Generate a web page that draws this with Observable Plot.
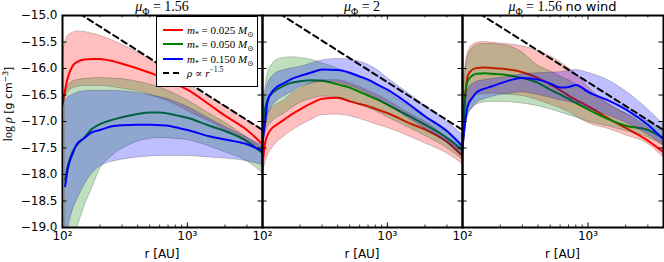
<!DOCTYPE html>
<html><head><meta charset="utf-8">
<script src="https://cdn.jsdelivr.net/npm/d3@7"></script>
<script src="https://cdn.jsdelivr.net/npm/@observablehq/plot@0.6"></script>
<style>
body{margin:0;background:#fff;}
#wrap{position:relative;width:664px;height:262px;overflow:hidden;background:#fff;font-family:"DejaVu Sans",sans-serif;}
#wrap svg{position:absolute;left:0;top:0;}
.t{position:absolute;white-space:nowrap;line-height:1;}
.m{font-family:"Liberation Serif","DejaVu Serif",serif;}
.m sub,.m sup{font-size:70%;line-height:0;}
#legend{position:absolute;left:156px;top:16px;width:100px;height:69px;border:1px solid #000;background:#fff;}
#legend .row{position:absolute;left:0;width:100px;height:12px;}
#legend svg{position:absolute;left:5px;top:0;}
#legend .lab{position:absolute;left:30px;top:0px;font-size:11px;line-height:12px;height:12px;white-space:nowrap;}
</style></head><body><div id="wrap"></div>
<script>
// ---- data ----
const radii = [100,105,110,120,130,150,170,200,250,300,400,500,600,700,800,1000,1500,2000,3000,4000];

const p1RedMid   = [-16.68,-16.40,-16.18,-15.96,-15.88,-15.83,-15.82,-15.82,-15.86,-15.91,-16.00,-16.08,-16.15,-16.22,-16.29,-16.40,-16.68,-16.89,-17.16,-17.43];
const p1RedHi    = [-15.74,-15.52,-15.39,-15.33,-15.30,-15.31,-15.34,-15.38,-15.47,-15.55,-15.70,-15.83,-15.95,-16.05,-16.13,-16.30,-16.55,-16.71,-16.98,-17.15];
const p1RedLo    = [-16.75,-16.55,-16.45,-16.38,-16.35,-16.33,-16.33,-16.33,-16.35,-16.38,-16.43,-16.50,-16.56,-16.62,-16.68,-16.80,-17.00,-17.15,-17.40,-17.60];
const p1GreenMid = [null,-18.10,-17.85,-17.58,-17.45,-17.30,-17.15,-17.05,-16.97,-16.92,-16.86,-16.83,-16.83,-16.85,-16.88,-16.93,-17.08,-17.18,-17.37,-17.60];
const p1GreenHi  = [null,-16.50,-16.35,-16.25,-16.22,-16.20,-16.19,-16.18,-16.19,-16.20,-16.25,-16.30,-16.36,-16.42,-16.48,-16.60,-16.85,-17.02,-17.30,-17.50];
const p1GreenLo  = [null,-19.80,-19.60,-19.30,-19.05,-18.60,-18.30,-17.90,-17.65,-17.52,-17.38,-17.33,-17.31,-17.32,-17.33,-17.35,-17.47,-17.58,-17.75,-17.97];
const p1BlueMid  = [null,-18.22,-17.90,-17.62,-17.43,-17.31,-17.21,-17.16,-17.09,-17.07,-17.06,-17.06,-17.07,-17.08,-17.11,-17.16,-17.28,-17.34,-17.43,-17.56];
const p1BlueHi   = [null,-16.60,-16.55,-16.50,-16.46,-16.43,-16.42,-16.42,-16.42,-16.43,-16.46,-16.50,-16.54,-16.58,-16.63,-16.72,-16.95,-17.10,-17.30,-17.45];
const p1BlueLo   = [null,-19.50,-19.10,-18.70,-18.50,-18.20,-18.00,-17.85,-17.76,-17.72,-17.68,-17.66,-17.65,-17.65,-17.65,-17.65,-17.68,-17.70,-17.75,-17.82];

const p2RedMid   = [-17.84,-17.40,-17.25,-17.12,-17.06,-16.96,-16.87,-16.77,-16.65,-16.57,-16.55,-16.62,-16.67,-16.71,-16.76,-16.84,-17.03,-17.15,-17.38,-17.65];
const p2RedHi    = [-17.30,-17.00,-16.85,-16.75,-16.68,-16.60,-16.48,-16.38,-16.27,-16.22,-16.22,-16.28,-16.35,-16.42,-16.48,-16.60,-16.85,-17.00,-17.30,-17.50];
const p2RedLo    = [-18.05,-17.80,-17.65,-17.50,-17.40,-17.28,-17.18,-17.08,-16.96,-16.88,-16.87,-16.90,-16.95,-17.00,-17.05,-17.12,-17.28,-17.41,-17.60,-17.80];
const p2GreenMid = [-17.10,-16.75,-16.58,-16.46,-16.40,-16.32,-16.27,-16.24,-16.22,-16.23,-16.30,-16.36,-16.44,-16.51,-16.57,-16.68,-16.90,-17.06,-17.31,-17.55];
const p2GreenHi  = [-17.00,-16.40,-16.10,-15.92,-15.84,-15.80,-15.79,-15.80,-15.84,-15.90,-16.00,-16.10,-16.17,-16.24,-16.30,-16.45,-16.72,-16.92,-17.20,-17.42];
const p2GreenLo  = [-17.50,-17.25,-17.10,-17.00,-16.93,-16.85,-16.75,-16.65,-16.57,-16.53,-16.55,-16.62,-16.68,-16.75,-16.80,-16.92,-17.12,-17.27,-17.50,-17.72];
const p2BlueMid  = [-17.40,-17.00,-16.62,-16.43,-16.35,-16.27,-16.20,-16.14,-16.07,-16.02,-16.03,-16.08,-16.15,-16.21,-16.28,-16.40,-16.68,-16.90,-17.18,-17.47];
const p2BlueHi   = [-16.90,-16.50,-16.30,-16.15,-16.08,-16.03,-16.00,-15.97,-15.90,-15.85,-15.82,-15.83,-15.87,-15.93,-16.00,-16.18,-16.48,-16.70,-17.00,-17.25];
const p2BlueLo   = [-17.60,-17.20,-16.90,-16.72,-16.62,-16.52,-16.45,-16.35,-16.28,-16.25,-16.27,-16.33,-16.40,-16.48,-16.55,-16.68,-16.95,-17.13,-17.40,-17.65];

const p3RedMid   = [-17.50,-16.55,-16.14,-16.02,-15.99,-15.98,-15.99,-16.00,-16.03,-16.07,-16.18,-16.30,-16.41,-16.51,-16.59,-16.71,-16.96,-17.12,-17.36,-17.58];
const p3RedHi    = [-16.60,-16.00,-15.72,-15.56,-15.52,-15.50,-15.51,-15.53,-15.55,-15.58,-15.67,-15.77,-15.88,-15.99,-16.10,-16.35,-16.68,-16.85,-17.12,-17.40];
const p3RedLo    = [-17.90,-17.20,-16.75,-16.55,-16.50,-16.48,-16.47,-16.48,-16.50,-16.52,-16.60,-16.68,-16.75,-16.82,-16.90,-17.03,-17.15,-17.26,-17.42,-17.68];
const p3GreenMid = [-17.40,-16.50,-16.24,-16.13,-16.10,-16.09,-16.10,-16.11,-16.14,-16.18,-16.27,-16.40,-16.49,-16.57,-16.65,-16.77,-16.97,-17.08,-17.16,-17.31];
const p3GreenHi  = [-16.70,-16.10,-15.80,-15.62,-15.56,-15.54,-15.54,-15.55,-15.60,-15.70,-15.95,-16.05,-16.15,-16.22,-16.30,-16.42,-16.70,-16.85,-17.00,-17.20];
const p3GreenLo  = [-17.80,-17.20,-16.90,-16.75,-16.68,-16.64,-16.63,-16.63,-16.64,-16.66,-16.71,-16.77,-16.83,-16.88,-16.92,-17.00,-17.10,-17.18,-17.30,-17.45];
const p3BlueMid  = [-17.47,-17.00,-16.71,-16.55,-16.45,-16.38,-16.34,-16.28,-16.21,-16.18,-16.21,-16.28,-16.36,-16.35,-16.31,-16.44,-16.62,-16.77,-17.06,-17.34];
const p3BlueHi   = [-17.00,-16.60,-16.40,-16.30,-16.25,-16.22,-16.20,-16.18,-16.14,-16.11,-16.09,-16.08,-16.07,-16.05,-16.03,-16.08,-16.24,-16.43,-16.77,-17.06];
const p3BlueLo   = [-17.70,-17.20,-16.90,-16.75,-16.65,-16.58,-16.54,-16.50,-16.47,-16.45,-16.50,-16.55,-16.60,-16.63,-16.66,-16.75,-16.90,-17.02,-17.25,-17.45];

// power-law guide  rho ∝ r^-1.5 (two end points)
const guideR   = [100, 4000];
const guideRho = [-14.76, -17.16];

const panelTitles = ['<i>μ</i><sub>Φ</sub> = 1.56', '<i>μ</i><sub>Φ</sub> = 2', '<i>μ</i><sub>Φ</sub> = 1.56 <span style="font-family:DejaVu Sans;font-size:13px">no wind</span>'];
const seriesColors = ["#ff0000", "#008000", "#0000ff"];
const legendLabels = ['<i>m</i><sub>*</sub> = 0.025 <i>M</i><sub>⊙</sub>', '<i>m</i><sub>*</sub> = 0.050 <i>M</i><sub>⊙</sub>', '<i>m</i><sub>*</sub> = 0.150 <i>M</i><sub>⊙</sub>', '<i>ρ</i> ∝ <i>r</i><sup>−1.5</sup>'];
const yTickValues = [-15.5,-16,-16.5,-17,-17.5,-18,-18.5];
const yLabelValues = [-15,-15.5,-16,-16.5,-17,-17.5,-18,-18.5,-19];
const xMajor = [100, 1000];
const xMajorLabels = ["10²", "10³"];
const xMinor = [200,300,400,500,600,700,800,900,2000,3000];

// ---- build ----
const W = 664, H = 262, plotTop = 15, plotBottom = 227;
const panels = [
  {left: 62, right: 262, s: [[p1RedMid,p1RedLo,p1RedHi],[p1GreenMid,p1GreenLo,p1GreenHi],[p1BlueMid,p1BlueLo,p1BlueHi]]},
  {left: 262, right: 462, s: [[p2RedMid,p2RedLo,p2RedHi],[p2GreenMid,p2GreenLo,p2GreenHi],[p2BlueMid,p2BlueLo,p2BlueHi]]},
  {left: 462, right: 663, s: [[p3RedMid,p3RedLo,p3RedHi],[p3GreenMid,p3GreenLo,p3GreenHi],[p3BlueMid,p3BlueLo,p3BlueHi]]}
];
const wrap = document.getElementById("wrap");
const guide = guideR.map((r, i) => ({r, v: guideRho[i]}));
const ph = plotBottom - plotTop;

panels.forEach((p, pi) => {
  const marks = [];
  p.s.forEach(([mid, lo, hi], si) => {
    const band = radii.map((r, i) => ({r, lo: lo[i], hi: hi[i]})).filter(d => d.lo != null && d.hi != null);
    const line = radii.map((r, i) => ({r, v: mid[i]})).filter(d => d.v != null);
    marks.push(Plot.areaY(band, {x: "r", y1: "lo", y2: "hi", fill: seriesColors[si], fillOpacity: 0.25,
      stroke: "#000", strokeOpacity: 0.25, strokeWidth: 0.8, curve: "monotone-x", clip: true}));
    marks.push(Plot.line(line, {x: "r", y: "v", stroke: seriesColors[si], strokeWidth: 2, curve: "monotone-x", clip: true}));
  });
  marks.push(Plot.line(guide, {x: "r", y: "v", stroke: "#000", strokeWidth: 2, strokeDasharray: "6,4", clip: true}));
  // inward ticks
  const w = p.right - p.left;
  marks.push(Plot.tickY(yTickValues, {y: d => d, insetRight: w - 4.5, stroke: "#000"}));
  marks.push(Plot.tickY(yTickValues, {y: d => d, insetLeft: w - 4.5, stroke: "#000"}));
  marks.push(Plot.tickX(xMajor, {x: d => d, insetTop: ph - 4.5, stroke: "#000"}));
  marks.push(Plot.tickX(xMajor, {x: d => d, insetBottom: ph - 4.5, stroke: "#000"}));
  marks.push(Plot.tickX(xMinor, {x: d => d, insetTop: ph - 2.5, stroke: "#000", strokeWidth: 0.8}));
  marks.push(Plot.tickX(xMinor, {x: d => d, insetBottom: ph - 2.5, stroke: "#000", strokeWidth: 0.8}));
  marks.push(Plot.axisX(xMajor, {anchor: "bottom", tickSize: 0, tickPadding: 4, label: null,
    tickFormat: d => xMajorLabels[xMajor.indexOf(d)], fontSize: 12}));
  if (pi === 0) {
    marks.push(Plot.axisY(yLabelValues, {anchor: "left", tickSize: 0, tickPadding: 5, label: null,
      tickFormat: d => d.toFixed(1).replace("-", "\u2212"), fontSize: 12}));
  }
  marks.push(Plot.frame({stroke: "#000", strokeWidth: 2}));
  const svg = Plot.plot({
    width: W, height: H,
    marginLeft: p.left, marginRight: W - p.right, marginTop: plotTop, marginBottom: H - plotBottom,
    x: {type: "log", domain: [100, 4000], axis: null, label: null},
    y: {domain: [-19, -15], axis: null, label: null},
    style: {background: "transparent", fontFamily: "DejaVu Sans, sans-serif", fontSize: "12px", overflow: "visible", color: "#000"},
    marks
  });
  wrap.appendChild(svg);

  const cx = (p.left + p.right) / 2;
  const t = document.createElement("div");
  t.className = "t m";
  t.style.cssText = `left:${cx}px;top:0px;transform:translateX(-50%);font-size:14px;`;
  t.innerHTML = panelTitles[pi];
  wrap.appendChild(t);
  const xl = document.createElement("div");
  xl.className = "t";
  xl.style.cssText = `left:${cx}px;top:248px;transform:translateX(-50%);font-size:12px;`;
  xl.textContent = "r [AU]";
  wrap.appendChild(xl);
});

const yl = document.createElement("div");
yl.className = "t";
yl.style.cssText = "left:8px;top:104px;transform:translate(-50%,-50%) rotate(-90deg);font-size:11px;";
yl.innerHTML = '<span class="m" style="font-size:12px">log <i>ρ</i></span> [g cm<sup style="font-size:70%">−3</sup>]';
wrap.appendChild(yl);

// legend
const lg = document.createElement("div");
lg.id = "legend";
const rowY = [7, 21, 36, 50];
legendLabels.forEach((lab, i) => {
  const row = document.createElement("div");
  row.className = "row";
  row.style.top = rowY[i] + "px";
  const dashed = i === 3;
  row.innerHTML = `<svg width="22" height="12"><line x1="1" x2="21" y1="6" y2="6" stroke="${dashed ? "#000" : seriesColors[i]}" stroke-width="2" ${dashed ? 'stroke-dasharray="6,4"' : ""}/></svg><span class="lab m">${lab}</span>`;
  lg.appendChild(row);
});
wrap.appendChild(lg);
</script></body></html>
